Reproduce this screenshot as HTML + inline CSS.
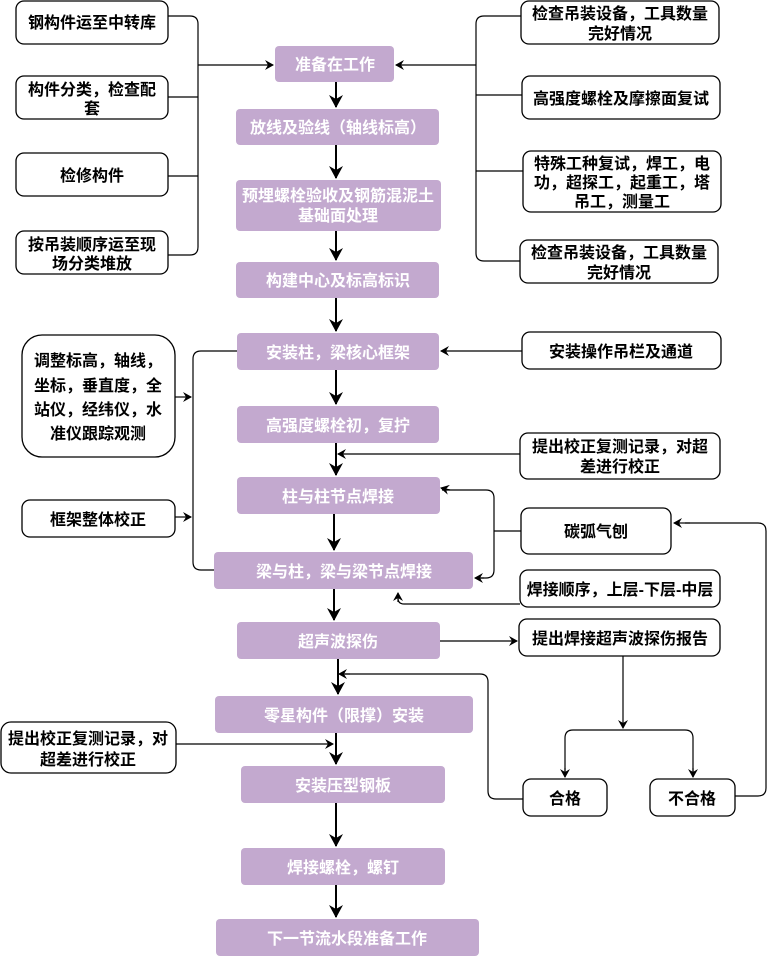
<!DOCTYPE html>
<html><head><meta charset="utf-8"><style>
html,body{margin:0;padding:0;background:#fff;}
svg{display:block;}
text{font-family:"Liberation Sans","Noto Sans CJK SC",sans-serif;font-weight:bold;font-size:16px;}
.p{fill:#c3a9cf;}
.pt{fill:#fff;}
.w{fill:#fff;stroke:#000;stroke-width:1.3;}
.l{fill:none;stroke:#000;stroke-width:1.2;}
.m{fill:none;stroke:#000;stroke-width:2;}
</style></head><body>
<svg width="773" height="958" viewBox="0 0 773 958" xmlns="http://www.w3.org/2000/svg">
<defs>
<marker id="a" markerWidth="10" markerHeight="10" refX="8" refY="5" orient="auto" markerUnits="userSpaceOnUse"><path d="M0,0 L9,5 L0,10 L3,5 z" fill="#000"/></marker>
<marker id="b" markerWidth="14" markerHeight="14" refX="12" refY="7" orient="auto" markerUnits="userSpaceOnUse"><path d="M0,0 L13,7 L0,14 L4,7 z" fill="#000"/></marker>
</defs>

<g text-anchor="middle">
<rect class="p" x="275" y="46" width="119" height="36" rx="4"/><text class="pt" x="335" y="70">准备在工作</text>
<rect class="p" x="236" y="109" width="203" height="36" rx="4"/><text class="pt" x="338" y="133">放线及验线（轴线标高）</text>
<rect class="p" x="236" y="180" width="205" height="51" rx="4"/><text class="pt" x="338" y="201">预埋螺栓验收及钢筋混泥土</text><text class="pt" x="338" y="221">基础面处理</text>
<rect class="p" x="236" y="262" width="203" height="36" rx="4"/><text class="pt" x="338" y="286">构建中心及标高标识</text>
<rect class="p" x="237" y="333" width="202" height="37" rx="4"/><text class="pt" x="338" y="358">安装柱，梁核心框架</text>
<rect class="p" x="237" y="406" width="202" height="37" rx="4"/><text class="pt" x="338" y="431">高强度螺栓初，复拧</text>
<rect class="p" x="237" y="477" width="203" height="37" rx="4"/><text class="pt" x="338" y="502">柱与柱节点焊接</text>
<rect class="p" x="214" y="552" width="259" height="37" rx="4"/><text class="pt" x="344" y="577">梁与柱，梁与梁节点焊接</text>
<rect class="p" x="237" y="622" width="203" height="37" rx="4"/><text class="pt" x="338" y="647">超声波探伤</text>
<rect class="p" x="215" y="696" width="258" height="37" rx="4"/><text class="pt" x="344" y="721">零星构件（限撑）安装</text>
<rect class="p" x="241" y="766" width="204" height="37" rx="4"/><text class="pt" x="343" y="791">安装压型钢板</text>
<rect class="p" x="241" y="848" width="204" height="37" rx="4"/><text class="pt" x="343" y="873">焊接螺栓，螺钉</text>
<rect class="p" x="216" y="919" width="263" height="37" rx="4"/><text class="pt" x="347" y="944">下一节流水段准备工作</text>
</g>

<g class="m">
<line x1="336" y1="82" x2="336" y2="107" marker-end="url(#b)"/>
<line x1="336" y1="145" x2="336" y2="178" marker-end="url(#b)"/>
<line x1="336" y1="231" x2="336" y2="260" marker-end="url(#b)"/>
<line x1="336" y1="298" x2="336" y2="331" marker-end="url(#b)"/>
<line x1="336" y1="370" x2="336" y2="404" marker-end="url(#b)"/>
<line x1="336" y1="443" x2="336" y2="475" marker-end="url(#b)"/>
<line x1="334" y1="514" x2="334" y2="550" marker-end="url(#b)"/>
<line x1="334" y1="589" x2="334" y2="620" marker-end="url(#b)"/>
<line x1="338" y1="659" x2="338" y2="694" marker-end="url(#b)"/>
<line x1="336" y1="733" x2="336" y2="764" marker-end="url(#b)"/>
<line x1="336" y1="803" x2="336" y2="846" marker-end="url(#b)"/>
<line x1="336" y1="885" x2="336" y2="917" marker-end="url(#b)"/>
</g>

<g text-anchor="middle">
<rect class="w" x="16" y="1" width="152" height="43" rx="8"/><text x="92" y="28">钢构件运至中转库</text>
<rect class="w" x="16" y="76" width="152" height="43" rx="8"/><text x="92" y="95">构件分类，检查配</text><text x="92" y="114">套</text>
<rect class="w" x="16" y="153" width="152" height="43" rx="8"/><text x="92" y="181">检修构件</text>
<rect class="w" x="16" y="231" width="152" height="43" rx="8"/><text x="92" y="250">按吊装顺序运至现</text><text x="92" y="269">场分类堆放</text>

<rect class="w" x="521" y="1" width="198" height="43" rx="8"/><text x="620" y="19">检查吊装设备，工具数量</text><text x="620" y="39">完好情况</text>
<rect class="w" x="522" y="76" width="198" height="43" rx="8"/><text x="621" y="104">高强度螺栓及摩擦面复试</text>
<rect class="w" x="523" y="151" width="198" height="61" rx="8"/><text x="622" y="169">特殊工种复试，焊工，电</text><text x="622" y="188">功，超探工，起重工，塔</text><text x="622" y="207">吊工，测量工</text>
<rect class="w" x="520" y="240" width="198" height="43" rx="8"/><text x="619" y="258">检查吊装设备，工具数量</text><text x="619" y="278">完好情况</text>

<rect class="w" x="22" y="335" width="153" height="122" rx="20"/><text x="98" y="366">调整标高，轴线，</text><text x="98" y="391">坐标，垂直度，全</text><text x="98" y="415">站仪，经纬仪，水</text><text x="98" y="439">准仪跟踪观测</text>
<rect class="w" x="22" y="500" width="153" height="37" rx="8"/><text x="98" y="525">框架整体校正</text>

<rect class="w" x="522" y="332" width="199" height="37" rx="8"/><text x="621" y="357">安装操作吊栏及通道</text>
<rect class="w" x="520" y="433" width="200" height="46" rx="8"/><text x="620" y="452">提出校正复测记录，对超</text><text x="620" y="472">差进行校正</text>
<rect class="w" x="521" y="508" width="150" height="46" rx="8"/><text x="596" y="537">碳弧气刨</text>
<rect class="w" x="520" y="570" width="200" height="37" rx="8"/><text x="620" y="595">焊接顺序，上层-下层-中层</text>
<rect class="w" x="519" y="619" width="201" height="37" rx="8"/><text x="620" y="644">提出焊接超声波探伤报告</text>
<rect class="w" x="523" y="779" width="84" height="37" rx="8"/><text x="565" y="804">合格</text>
<rect class="w" x="650" y="779" width="85" height="37" rx="8"/><text x="692" y="804">不合格</text>
<rect class="w" x="1" y="722" width="175" height="51" rx="10"/><text x="88" y="744">提出校正复测记录，对</text><text x="88" y="765">超差进行校正</text>
</g>

<g class="l">
<path d="M168,16 H190 Q198,16 198,24 V247 Q198,255 190,255 H168"/>
<path d="M168,97 H198 M168,176 H198"/>
<line x1="198" y1="65" x2="273" y2="65" marker-end="url(#a)"/>
<path d="M521,16 H484 Q476,16 476,24 V253 Q476,261 484,261 H520"/>
<path d="M522,95 H476 M523,171 H476"/>
<line x1="476" y1="65" x2="396" y2="65" marker-end="url(#a)"/>

<path d="M237,351 H201 Q193,351 193,359 V562 Q193,570 201,570 H214"/>
<line x1="175" y1="397" x2="191" y2="397" marker-end="url(#a)"/>
<line x1="175" y1="517" x2="191" y2="517" marker-end="url(#a)"/>
<line x1="522" y1="351" x2="441" y2="351" marker-end="url(#a)"/>
<line x1="520" y1="454" x2="338" y2="454" marker-end="url(#a)"/>

<path d="M521,531 H494"/>
<path d="M442,490 H486 Q494,490 494,498 V570 Q494,578 486,578 H476" />
<line x1="450" y1="490" x2="441" y2="488" marker-end="url(#a)"/>
<line x1="484" y1="578" x2="475" y2="578" marker-end="url(#a)"/>
<path d="M520,604 H404 Q398,604 398,598" />
<line x1="398" y1="602" x2="398" y2="593" marker-end="url(#a)"/>

<line x1="440" y1="641" x2="517" y2="641" marker-end="url(#a)"/>
<line x1="623" y1="656" x2="623" y2="728" marker-end="url(#a)"/>
<path d="M565,777 V738 Q565,730 573,730 H685 Q693,730 693,738 V777"/>
<line x1="565" y1="768" x2="565" y2="777" marker-end="url(#a)"/>
<line x1="693" y1="768" x2="693" y2="777" marker-end="url(#a)"/>
<path d="M523,799 H496 Q488,799 488,791 V682 Q488,674 480,674 H345"/>
<line x1="350" y1="674" x2="339" y2="674" marker-end="url(#a)"/>
<path d="M735,796 H758 Q766,796 766,788 V531 Q766,523 758,523 H685"/>
<line x1="690" y1="523" x2="674" y2="523" marker-end="url(#a)"/>
<line x1="176" y1="744" x2="333" y2="744" marker-end="url(#a)"/>
</g>
</svg>
</body></html>
